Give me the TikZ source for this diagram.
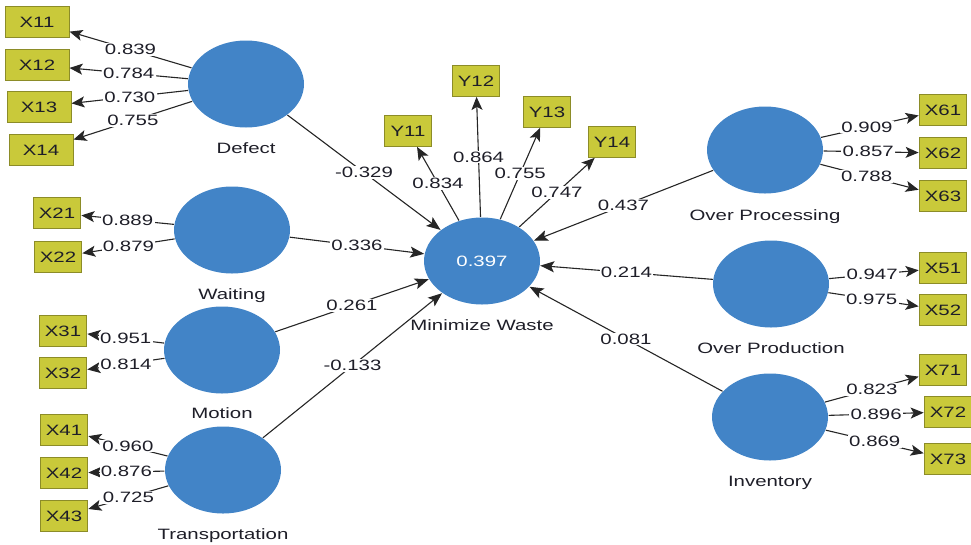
\documentclass[tikz,border=0pt]{standalone}
\usepackage{fontspec}
\setmainfont{Liberation Sans}
\usetikzlibrary{positioning,arrows.meta,shapes.geometric}
\definecolor{lvblue}{RGB}{66,132,199}
\definecolor{mvfill}{RGB}{201,201,58}
\definecolor{mvline}{RGB}{140,140,40}
\definecolor{txtgray}{RGB}{30,30,40}
\begin{document}
\begin{tikzpicture}[x=1pt, y=-1pt, line width=1.1pt, draw=black!85,
	every node/.style={font=\fontsize{15}{17}\selectfont, text=txtgray},
	latent/.style={ellipse, fill=lvblue, minimum width=116pt, minimum height=87pt, inner sep=0pt},
	ind/.style={rectangle, draw=mvline, line width=0.8pt, fill=mvfill, minimum width=35pt, minimum height=31pt, inner sep=2pt, xscale=1.36},
	wideind/.style={ind, minimum width=47pt},
	coef/.style={fill=white, inner sep=1pt, xscale=1.36},
	lvname/.style={inner sep=0pt, text height=10pt, text depth=3pt, xscale=1.36},
	load/.style={-{Stealth[length=13pt,width=11pt,inset=3pt]}},
	inner/.style={-{Stealth[length=14pt,width=11pt,inset=3pt]}}]
	\useasboundingbox (0,0) rectangle (971,544);

	\node[latent] (defect) at (246,84) {};
	\node[latent] (waiting) at (232,230) {};
	\node[latent] (motion) at (222,350) {};
	\node[latent] (transport) at (223,470) {};
	\node[latent] (waste) at (482,261) {\color{white}\scalebox{1.36}[1]{0.397}};
	\node[latent] (overproc) at (765,150) {};
	\node[latent] (overprod) at (771,284) {};
	\node[latent] (inventory) at (770,417) {};

	\node[lvname, below=15pt of defect] (defectname) {Defect};
	\node[lvname, below=15pt of waiting] (waitingname) {Waiting};
	\node[lvname, below=14pt of motion] (motionname) {Motion};
	\node[lvname, below=15pt of transport] (transportname) {Transportation};
	\node[lvname, below=15pt of waste] (wastename) {Minimize Waste};
	\node[lvname, below=16pt of overproc] (overprocname) {Over Processing};
	\node[lvname, below=15pt of overprod] (overprodname) {Over Production};
	\node[lvname, below=15pt of inventory] (inventoryname) {Inventory};

	\node[wideind] (x11) at (37,22) {X11};
	\node[wideind] (x12) at (37,65) {X12};
	\node[wideind] (x13) at (39,107) {X13};
	\node[wideind] (x14) at (41,150) {X14};
	\node[ind] (x21) at (57,213) {X21};
	\node[ind] (x22) at (58,257) {X22};
	\node[ind] (x31) at (63,331) {X31};
	\node[ind] (x32) at (63,373) {X32};
	\node[ind] (x41) at (64,430) {X41};
	\node[ind] (x42) at (64,473) {X42};
	\node[ind] (x43) at (64,516) {X43};
	\node[ind] (y11) at (408,131) {Y11};
	\node[ind] (y12) at (476,81) {Y12};
	\node[ind] (y13) at (547,112) {Y13};
	\node[ind] (y14) at (612,142) {Y14};
	\node[ind] (x61) at (943,110) {X61};
	\node[ind] (x62) at (943,153) {X62};
	\node[ind] (x63) at (943,196) {X63};
	\node[ind] (x51) at (943,268) {X51};
	\node[ind] (x52) at (943,310) {X52};
	\node[ind] (x71) at (943,370) {X71};
	\node[ind] (x72) at (948,412) {X72};
	\node[ind] (x73) at (948,459) {X73};

	\draw[load] (defect) -- node[coef] (l11) {0.839} (x11);
	\draw[load] (defect) -- node[coef] (l12) {0.784} (x12);
	\draw[load] (defect) -- node[coef] (l13) {0.730} (x13);
	\draw[load] (defect) -- node[coef] (l14) {0.755} (x14);
	\draw[load] (waiting) -- node[coef] (l21) {0.889} (x21);
	\draw[load] (waiting) -- node[coef] (l22) {0.879} (x22);
	\draw[load] (motion) -- node[coef] (l31) {0.951} (x31);
	\draw[load] (motion) -- node[coef] (l32) {0.814} (x32);
	\draw[load] (transport) -- node[coef] (l41) {0.960} (x41);
	\draw[load] (transport) -- node[coef] (l42) {0.876} (x42);
	\draw[load] (transport) -- node[coef] (l43) {0.725} (x43);
	\draw[load] (waste) -- node[coef] (m11) {0.834} (y11);
	\draw[load] (waste) -- node[coef] (m12) {0.864} (y12);
	\draw[load] (waste) -- node[coef] (m13) {0.755} (y13);
	\draw[load] (waste) -- node[coef] (m14) {0.747} (y14);
	\draw[load] (overproc) -- node[coef, pos=0.47] (l61) {0.909} (x61);
	\draw[load] (overproc) -- node[coef, pos=0.47] (l62) {0.857} (x62);
	\draw[load] (overproc) -- node[coef, pos=0.47] (l63) {0.788} (x63);
	\draw[load] (overprod) -- node[coef, pos=0.48] (l51) {0.947} (x51);
	\draw[load] (overprod) -- node[coef, pos=0.48] (l52) {0.975} (x52);
	\draw[load] (inventory) -- node[coef] (l71) {0.823} (x71);
	\draw[load] (inventory) -- node[coef] (l72) {0.896} (x72);
	\draw[load] (inventory) -- node[coef] (l73) {0.869} (x73);

	\draw[inner] (defect) -- node[coef] (p1) {-0.329} (waste);
	\draw[inner] (waiting) -- node[coef] (p2) {0.336} (waste);
	\draw[inner] (motion) -- node[coef] (p3) {0.261} (waste);
	\draw[inner] (transport) -- node[coef] (p4) {-0.133} (waste);
	\draw[inner] (overproc) -- node[coef] (p6) {0.437} (waste);
	\draw[inner] (overprod) -- node[coef] (p5) {0.214} (waste);
	\draw[inner] (inventory) -- node[coef] (p7) {0.081} (waste);
\end{tikzpicture}
\end{document}
